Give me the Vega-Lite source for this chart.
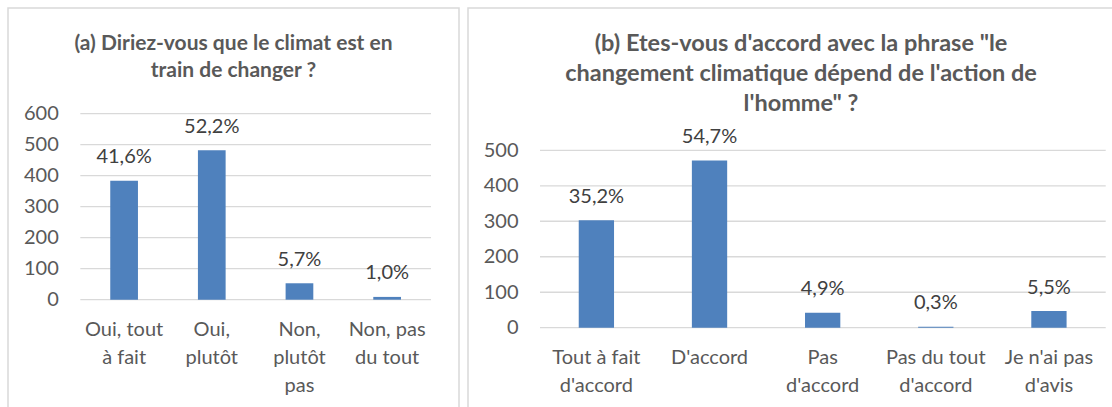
{
  "$schema": "https://vega.github.io/schema/vega-lite/v6.json",
  "padding": {"left": 7, "top": 7, "right": 0, "bottom": 0},
  "spacing": 7,
  "config": {
    "view": {"stroke": "#d9d9d9", "strokeWidth": 1.5},
    "font": "Lato",
    "locale": {"number": {"decimal": ",", "thousands": " ", "grouping": [3], "currency": ["", " €"]}},
    "axis": {"labelFont": "Lato", "labelColor": "#595959", "labelFontSize": 20, "domain": false, "ticks": false, "tickSize": 0, "grid": false, "title": null}
  },
  "datasets": {
    "a": [
      {"cat": "Oui, tout à fait", "n": 384, "pct": 0.416},
      {"cat": "Oui, plutôt", "n": 482, "pct": 0.522},
      {"cat": "Non, plutôt pas", "n": 53, "pct": 0.057},
      {"cat": "Non, pas du tout", "n": 9, "pct": 0.010}
    ],
    "b": [
      {"cat": "Tout à fait d'accord", "n": 303, "pct": 0.352},
      {"cat": "D'accord", "n": 471, "pct": 0.547},
      {"cat": "Pas d'accord", "n": 42, "pct": 0.049},
      {"cat": "Pas du tout d'accord", "n": 3, "pct": 0.003},
      {"cat": "Je n'ai pas d'avis", "n": 47, "pct": 0.055}
    ],
    "gridA": [{"n": 0}, {"n": 100}, {"n": 200}, {"n": 300}, {"n": 400}, {"n": 500}, {"n": 600}],
    "gridB": [{"n": 0}, {"n": 100}, {"n": 200}, {"n": 300}, {"n": 400}, {"n": 500}]
  },
  "hconcat": [
    {
      "width": 451,
      "height": 405,
      "title": {
        "text": ["(a) Diriez-vous que le climat est en", "train de changer ?"],
        "font": "Lato", "fontSize": 21, "fontWeight": "bold", "color": "#595959",
        "lineHeight": 27, "anchor": "middle", "frame": "group", "offset": -73
      },
      "resolve": {"scale": {"x": "independent"}},
      "layer": [
        {
          "data": {"name": "gridA"},
          "mark": {"type": "rule", "color": "#d9d9d9", "strokeWidth": 1.3},
          "encoding": {
            "x": {"datum": 0, "type": "quantitative", "scale": {"domain": [-0.2062, 1.0798], "nice": false, "zero": false}, "axis": null},
            "x2": {"datum": 1},
            "y": {"field": "n", "type": "quantitative", "scale": {"domain": [-365.48, 940.97], "nice": false, "zero": false},
                  "axis": {"orient": "left", "values": [0, 100, 200, 300, 400, 500, 600], "offset": -72.3, "labelPadding": 22}}
          }
        },
        {
          "data": {"name": "a"},
          "encoding": {
            "x": {"field": "cat", "type": "nominal", "sort": null,
                  "scale": {"paddingInner": 0.684, "paddingOuter": 0.914, "align": 0.638},
                  "axis": {"orient": "bottom", "offset": -113.3, "labelPadding": 20, "labelAngle": 0, "labelBaseline": "top", "labelLineHeight": 28, "labelLimit": 0,
                           "labelExpr": "datum.value == 'Oui, tout à fait' ? ['Oui, tout', 'à fait'] : datum.value == 'Oui, plutôt' ? ['Oui,', 'plutôt'] : datum.value == 'Non, plutôt pas' ? ['Non,', 'plutôt', 'pas'] : ['Non, pas', 'du tout']"}},
            "y": {"field": "n", "type": "quantitative", "scale": {"domain": [-365.48, 940.97], "nice": false, "zero": false},
                  "axis": {"orient": "left", "values": [0, 100, 200, 300, 400, 500, 600], "offset": -72.3, "labelPadding": 22}}
          },
          "layer": [
            {"mark": {"type": "bar", "color": "#4f81bd"}},
            {"mark": {"type": "text", "dy": -17.5, "baseline": "alphabetic", "font": "Lato", "fontSize": 20, "color": "#404040"},
             "encoding": {"text": {"field": "pct", "type": "quantitative", "format": ".1%"}}}
          ]
        }
      ]
    },
    {
      "width": 666,
      "height": 405,
      "title": {
        "text": ["(b) Etes-vous d'accord avec la phrase \"le", "changement climatique dépend de l'action de", "l'homme\" ?"],
        "font": "Lato", "fontSize": 23.5, "fontWeight": "bold", "color": "#595959",
        "lineHeight": 30, "anchor": "middle", "frame": "group", "offset": -107
      },
      "resolve": {"scale": {"x": "independent"}},
      "layer": [
        {
          "data": {"name": "gridB"},
          "mark": {"type": "rule", "color": "#d9d9d9", "strokeWidth": 1.3},
          "encoding": {
            "x": {"datum": 0, "type": "quantitative", "scale": {"domain": [-0.1273, 1.05], "nice": false, "zero": false}, "axis": null},
            "x2": {"datum": 1},
            "y": {"field": "n", "type": "quantitative", "scale": {"domain": [-240.4, 901.1], "nice": false, "zero": false},
                  "axis": {"orient": "left", "values": [0, 100, 200, 300, 400, 500], "offset": -72, "labelPadding": 22}}
          }
        },
        {
          "data": {"name": "b"},
          "encoding": {
            "x": {"field": "cat", "type": "nominal", "sort": null,
                  "scale": {"paddingInner": 0.688, "paddingOuter": 0.7873, "align": 0.6216},
                  "axis": {"orient": "bottom", "offset": -85.3, "labelPadding": 20, "labelAngle": 0, "labelBaseline": "top", "labelLineHeight": 28, "labelLimit": 0,
                           "labelExpr": "datum.value == \"Tout à fait d'accord\" ? ['Tout à fait', \"d'accord\"] : datum.value == \"D'accord\" ? \"D'accord\" : datum.value == \"Pas d'accord\" ? ['Pas', \"d'accord\"] : datum.value == \"Pas du tout d'accord\" ? ['Pas du tout', \"d'accord\"] : [\"Je n'ai pas\", \"d'avis\"]"}},
            "y": {"field": "n", "type": "quantitative", "scale": {"domain": [-240.4, 901.1], "nice": false, "zero": false},
                  "axis": {"orient": "left", "values": [0, 100, 200, 300, 400, 500], "offset": -72, "labelPadding": 22}}
          },
          "layer": [
            {"mark": {"type": "bar", "color": "#4f81bd"}},
            {"mark": {"type": "text", "dy": -17.5, "baseline": "alphabetic", "font": "Lato", "fontSize": 20, "color": "#404040"},
             "encoding": {"text": {"field": "pct", "type": "quantitative", "format": ".1%"}}}
          ]
        }
      ]
    }
  ]
}
